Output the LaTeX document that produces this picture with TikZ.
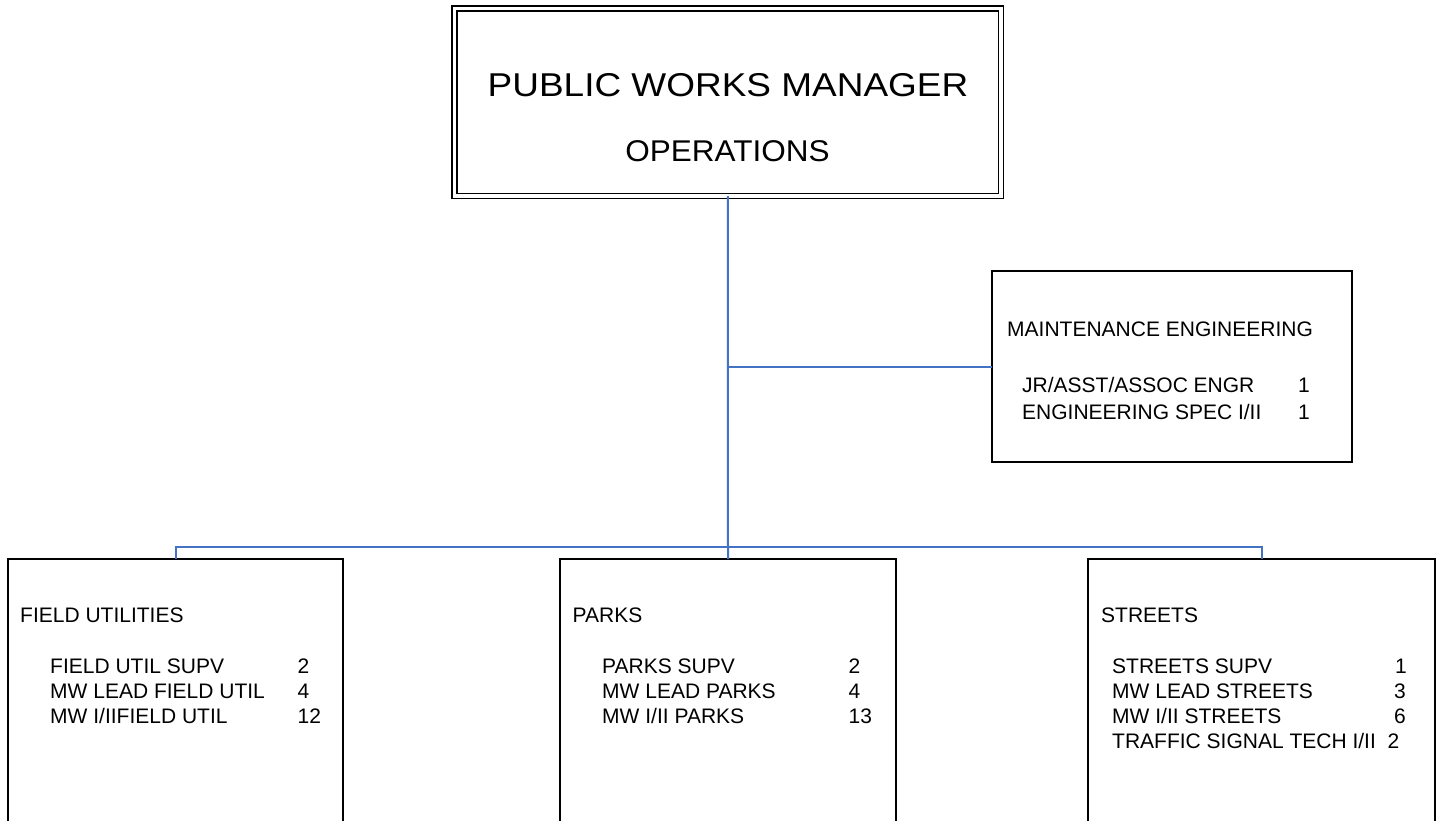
\documentclass[tikz,border=0pt]{standalone}
\usepackage{fontspec}
\setmainfont{Liberation Sans}
\newfontfamily\headfont[FakeStretch=1.12]{Liberation Sans}
\newfontfamily\subheadfont[FakeStretch=1.05]{Liberation Sans}
\definecolor{linkblue}{RGB}{68,114,196}
\begin{document}
\begin{tikzpicture}[x=1pt,y=-1pt,
  unitbox/.style={draw=black,line width=2pt,rectangle,outer sep=0pt,inner sep=0pt,anchor=north west},
  conn/.style={draw=linkblue,line width=2pt},
  txt/.style={anchor=base west,inner sep=0pt,font=\fontsize{21}{25}\selectfont},
  num/.style={anchor=base west,inner sep=0pt,font=\fontsize{21}{25}\selectfont},
  numr/.style={anchor=base east,inner sep=0pt,font=\fontsize{21}{25}\selectfont}]
\useasboundingbox (0,0) rectangle (1440,820);
\fill[white] (0,0) rectangle (1440,820);
\clip (0,0) rectangle (1440,820);

% manager box with double border
\node[draw=black,double,double distance=3.5pt,line width=1.5pt,rectangle,outer sep=0pt,inner sep=0pt,
      minimum width=546.5pt,minimum height=187.5pt,anchor=north west] (pwm) at (454.5,8.5) {};
\node[anchor=base,inner sep=0pt,font=\headfont\fontsize{33}{38}\selectfont] (pwmtitle) at (728,96) {PUBLIC WORKS MANAGER};
\node[anchor=base,inner sep=0pt,font=\subheadfont\fontsize{30}{34}\selectfont] (pwmsub) at (727.5,161) {OPERATIONS};

% maintenance engineering
\node[unitbox,minimum width=360pt,minimum height=191pt] (maint) at (992,271) {};
\node[txt] (mainthead) at (1007,336) {MAINTENANCE ENGINEERING};
\node[txt] (maint1) at (1022,392) {JR/ASST/ASSOC ENGR};
\node[txt] (maint2) at (1022,419) {ENGINEERING SPEC I/II};
\node[num] (maint1n) at (1298,392) {1};
\node[num] (maint2n) at (1298,419) {1};

% divisions
\node[unitbox,minimum width=335pt,minimum height=300pt] (field) at (8,559) {};
\node[unitbox,minimum width=336pt,minimum height=300pt] (parks) at (560,559) {};
\node[unitbox,minimum width=347pt,minimum height=300pt] (streets) at (1088,559) {};

\node[txt] (fieldhead) at (20,622) {FIELD UTILITIES};
\node[txt] (field1) at (50,673) {FIELD UTIL SUPV};
\node[txt] (field2) at (50,698) {MW LEAD FIELD UTIL};
\node[txt] (field3) at (50,723) {MW I/IIFIELD UTIL};
\node[num] (field1n) at (297.5,673) {2};
\node[num] (field2n) at (297.5,698) {4};
\node[num] (field3n) at (297.5,723) {12};

\node[txt] (parkshead) at (572.5,622) {PARKS};
\node[txt] (parks1) at (602,673) {PARKS SUPV};
\node[txt] (parks2) at (602,698) {MW LEAD PARKS};
\node[txt] (parks3) at (602,723) {MW I/II PARKS};
\node[num] (parks1n) at (848.5,673) {2};
\node[num] (parks2n) at (848.5,698) {4};
\node[num] (parks3n) at (848.5,723) {13};

\node[txt] (streetshead) at (1101,622) {STREETS};
\node[txt] (streets1) at (1112,673) {STREETS SUPV};
\node[txt] (streets2) at (1112,698) {MW LEAD STREETS};
\node[txt] (streets3) at (1112,723) {MW I/II STREETS};
\node[txt] (streets4) at (1112,748) {TRAFFIC SIGNAL TECH I/II\ \ 2};
\node[numr] (streets1n) at (1407,673) {1};
\node[numr] (streets2n) at (1406,698) {3};
\node[numr] (streets3n) at (1406,723) {6};

% connectors
\coordinate (bar) at (728,547);
\draw[conn] (pwm.south) -- (parks.north);
\draw[conn] (pwm.south |- maint.west) -- (maint.west);
\draw[conn] (field.north) |- (bar) -| (streets.north);
\end{tikzpicture}
\end{document}
